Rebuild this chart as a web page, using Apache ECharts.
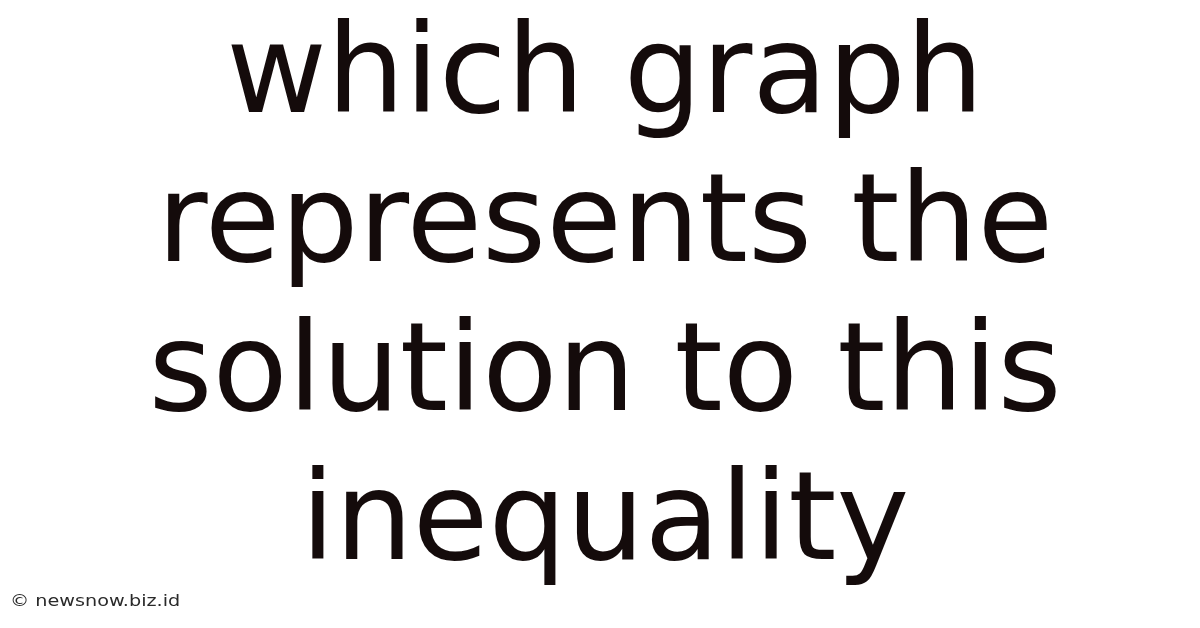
<!DOCTYPE html>
<html>
<head>
<meta charset="utf-8">
<script src="https://cdn.jsdelivr.net/npm/echarts@6/dist/echarts.min.js"></script>
<style>
html,body{margin:0;padding:0;background:#ffffff;}
#chart{width:1200px;height:628px;}
</style>
</head>
<body>
<div id="chart"></div>
<script>
const titleLines = ["which graph", "represents the", "solution to this", "inequality"];
const lineCenters = [80, 229, 378, 527];
const watermark = "\u00A9 newsnow.biz.id";

const chart = echarts.init(document.getElementById('chart'), null, {renderer: 'canvas'});
const elements = titleLines.map((t, i) => ({
  type: 'text',
  x: 605,
  y: lineCenters[i],
  style: {
    text: t,
    fill: '#140b0b',
    font: '123px "DejaVu Sans"',
    align: 'center',
    verticalAlign: 'middle'
  }
}));
elements.push({
  type: 'text',
  x: 10,
  y: 602,
  scaleX: 1.2,
  style: {
    text: watermark,
    fill: '#2a2a2a',
    font: '16px "DejaVu Sans"',
    align: 'left',
    verticalAlign: 'middle'
  }
});
chart.setOption({
  backgroundColor: '#ffffff',
  graphic: { elements: elements }
});
</script>
</body>
</html>
